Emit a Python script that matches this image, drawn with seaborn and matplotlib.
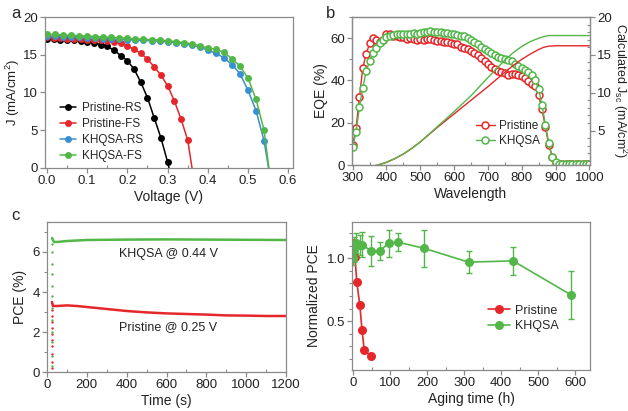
import numpy as np
import pandas as pd
import matplotlib
matplotlib.use("Agg")
import matplotlib.pyplot as plt
import seaborn as sns
from matplotlib.ticker import MultipleLocator, FormatStrFormatter

# ---- panel a: J-V curves ----
v_pristine = [i / 60 for i in range(23)]
j_pristine_rs = [17.1, 17.05, 17.0, 16.95, 16.9, 16.8, 16.7, 16.55, 16.35, 16.1, 15.6, 14.9,
                 14.2, 13.1, 11.35, 9.3, 6.65, 4.0, 0.8, -3.0]
j_pristine_fs = [17.3, 17.25, 17.2, 17.15, 17.1, 17.05, 17.0, 16.95, 16.9, 16.8, 16.7, 16.5,
                 16.2, 15.7, 15.2, 14.4, 13.4, 12.3, 10.9, 8.9, 6.5, 3.7, -2.0]
v_khqsa = [i * 0.02 for i in range(29)]
j_khqsa_rs = [17.5, 17.45, 17.4, 17.35, 17.3, 17.25, 17.2, 17.15, 17.1, 17.05, 17.0, 16.95, 16.9,
              16.85, 16.8, 16.7, 16.6, 16.45, 16.25, 16.0, 15.6, 15.2, 14.6, 13.7, 12.5, 10.3,
              7.6, 3.6, -2.9]
j_khqsa_fs = [17.7, 17.7, 17.6, 17.6, 17.5, 17.5, 17.4, 17.35, 17.3, 17.25, 17.2, 17.1, 17.05,
              17.0, 16.95, 16.85, 16.75, 16.6, 16.45, 16.2, 15.9, 15.7, 15.3, 14.5, 13.5, 11.9,
              9.1, 5.0, -3.3]

# ---- panel b: EQE and integrated Jsc ----
wl = list(range(300, 1001, 10))
eqe_pristine = [9.5, 17.5, 32, 46, 52.5, 57.5, 60, 59, 58, 59, 62, 62, 61, 61, 60.5, 60.5,
                59.5, 60, 59.5, 59, 59.5, 59, 59.5, 59.5, 59, 58.5, 58.5, 58, 58, 57.5, 57,
                57, 56, 55.5, 55, 54, 53, 52, 50.5, 49, 48, 46.5, 45.5, 44.5, 44, 43.5, 42.5,
                43, 43, 42.5, 42, 41, 39.5, 38.5, 37.5, 33, 26.5, 18, 9.5, 4, 1, 0.4, 0.3, 0.3,
                0.3, 0.3, 0.3, 0.3, 0.3, 0.3, 0.3]
eqe_khqsa = [8.5, 15.5, 27.5, 36.5, 44.5, 49, 53, 55.5, 57.5, 59, 60.5, 61, 61.5, 62, 62, 62,
             62, 62, 62.5, 62, 62.5, 63, 63, 63.5, 63, 63, 63, 62.5, 62.5, 62, 62, 61.5, 61,
             61, 60, 59, 58, 57, 56, 55, 54, 53, 52, 51, 50.5, 50, 49.5, 49, 48, 47, 46, 45,
             44, 42.5, 40, 36, 28.5, 19, 10.5, 4, 1.5, 0.6, 0.4, 0.4, 0.4, 0.5, 0.5, 0.5, 0.4,
             0.4, 0.4]
wl_jsc = [300, 325, 350, 375, 400, 425, 450, 475, 500, 525, 550, 575, 600, 625, 650, 675, 700,
          725, 750, 775, 800, 825, 850, 865, 880, 900, 1000]
jsc_pristine = [0.0, 0.05, 0.2, 0.45, 0.8, 1.3, 1.9, 2.65, 3.5, 4.45, 5.4, 6.3, 7.2, 8.1, 9.0,
                9.9, 10.8, 11.75, 12.7, 13.6, 14.4, 15.1, 15.7, 16.0, 16.15, 16.2, 16.2]
jsc_khqsa = [0.0, 0.05, 0.2, 0.45, 0.8, 1.3, 1.9, 2.65, 3.5, 4.5, 5.5, 6.5, 7.5, 8.55, 9.6,
             10.8, 12.0, 13.15, 14.3, 15.3, 16.1, 16.75, 17.2, 17.4, 17.55, 17.55, 17.55]

# ---- panel c: PCE tracking ----
t_pristine = [25, 30, 50, 100, 150, 200, 300, 400, 500, 600, 700, 800, 900, 1000, 1100, 1200]
pce_pristine = [3.5, 3.3, 3.3, 3.33, 3.3, 3.25, 3.15, 3.05, 2.98, 2.93, 2.9, 2.87, 2.83, 2.82,
                2.8, 2.8]
t_khqsa = [25, 35, 50, 100, 200, 400, 600, 800, 1000, 1200]
pce_khqsa = [6.7, 6.5, 6.5, 6.55, 6.6, 6.62, 6.63, 6.62, 6.61, 6.6]
ramp_pristine = [0.2, 0.5, 0.9, 1.3, 1.6, 1.9, 2.2, 2.5, 2.8, 3.1]
ramp_khqsa = [0.3, 0.8, 1.5, 2.0, 2.6, 3.2, 3.8, 4.3, 4.9, 5.4, 6.0, 6.4]

# ---- panel d: aging ----
h_pristine = [0, 5, 10, 18, 24, 30, 48]
npce_pristine = [1.12, 1.01, 0.81, 0.63, 0.43, 0.27, 0.22]
h_khqsa = [0, 3, 9, 18, 24, 48, 72, 96, 120, 192, 312, 432, 588]
npce_khqsa = [1.0, 1.07, 1.12, 1.11, 1.11, 1.06, 1.06, 1.12, 1.13, 1.08, 0.97, 0.98, 0.71]
err_khqsa = [0.05, 0.1, 0.08, 0.08, 0.1, 0.12, 0.07, 0.11, 0.07, 0.15, 0.09, 0.11, 0.19]

RED = "#e5262a"
GREEN = "#52b748"
BLUE = "#3a8fd3"
BLACK = "#000000"

sns.set_style("ticks")
plt.rcParams["font.family"] = ["Liberation Sans", "DejaVu Sans"]
plt.rcParams["mathtext.default"] = "regular"
plt.rcParams["axes.edgecolor"] = "#8a8a8a"
plt.rcParams["xtick.color"] = "#8a8a8a"
plt.rcParams["ytick.color"] = "#8a8a8a"
plt.rcParams["xtick.labelcolor"] = "#222222"
plt.rcParams["ytick.labelcolor"] = "#222222"
plt.rcParams["axes.labelcolor"] = "#222222"
plt.rcParams["axes.linewidth"] = 0.9

fig = plt.figure(figsize=(6.28, 4.11), dpi=100)
W, H = 628, 411


def add_axes(l, r, t, b):
    return fig.add_axes([l / W, 1 - b / H, (r - l) / W, (b - t) / H])


def style(ax, fs=9.5):
    ax.tick_params(which="major", direction="out", length=3.5, width=0.9, labelsize=fs, pad=1.5)
    ax.tick_params(which="minor", axis="x", direction="in", length=2.5, width=0.8)
    ax.tick_params(which="minor", axis="y", direction="out", length=2.5, width=0.8)


# ---------- a ----------
ax = add_axes(45, 293, 17, 168)
series_a = [("Pristine-RS", v_pristine[:len(j_pristine_rs)], j_pristine_rs, BLACK),
            ("Pristine-FS", v_pristine, j_pristine_fs, RED),
            ("KHQSA-RS", v_khqsa, j_khqsa_rs, BLUE),
            ("KHQSA-FS", v_khqsa, j_khqsa_fs, GREEN)]
for name, xv, yv, c in series_a:
    sns.lineplot(x=xv, y=yv, ax=ax, color=c, marker="o", markersize=5, markeredgewidth=0,
                 linewidth=1.1, label=name)
ax.set_xlim(-0.005, 0.612)
ax.set_ylim(0, 20)
ax.xaxis.set_major_locator(MultipleLocator(0.1))
ax.xaxis.set_minor_locator(MultipleLocator(0.05))
ax.yaxis.set_major_locator(MultipleLocator(5))
ax.set_xlabel("Voltage (V)", fontsize=10, labelpad=2)
ax.set_ylabel("J (mA/cm$^2$)", fontsize=9.5, va="center")
ax.yaxis.set_label_coords(-0.128, 0.5)
style(ax)
ax.legend(loc="lower left", bbox_to_anchor=(0.04, 0.01), frameon=False, fontsize=8.5,
          handlelength=1.4, handletextpad=0.5, labelspacing=0.33, borderaxespad=0)
fig.text(11 / W, 1 - 13 / H, "a", fontsize=12, va="center", ha="left")

# ---------- b ----------
ax = add_axes(352, 590, 17, 165)
sns.lineplot(x=wl, y=eqe_pristine, ax=ax, color=RED, marker="o", markersize=5,
             markerfacecolor="white", markeredgecolor=RED, markeredgewidth=1.1,
             linewidth=1.0, label="Pristine")
sns.lineplot(x=wl, y=eqe_khqsa, ax=ax, color=GREEN, marker="o", markersize=5,
             markerfacecolor="white", markeredgecolor=GREEN, markeredgewidth=1.1,
             linewidth=1.0, label="KHQSA")
ax.set_xlim(298, 1002)
ax.set_ylim(0, 70)
ax.xaxis.set_major_locator(MultipleLocator(100))
ax.xaxis.set_minor_locator(MultipleLocator(50))
ax.yaxis.set_major_locator(MultipleLocator(20))
ax.yaxis.set_minor_locator(MultipleLocator(10))
ax.set_xlabel("Wavelength", fontsize=10, labelpad=2)
ax.set_ylabel("EQE (%)", fontsize=10, labelpad=2)
style(ax)
ax.legend(loc="lower left", bbox_to_anchor=(0.5, 0.09), frameon=False, fontsize=8.5,
          handlelength=1.6, handletextpad=0.4, labelspacing=0.25, borderaxespad=0)
ax2 = ax.twinx()
sns.lineplot(x=wl_jsc, y=jsc_pristine, ax=ax2, color=RED, linewidth=1.0)
sns.lineplot(x=wl_jsc, y=jsc_khqsa, ax=ax2, color=GREEN, linewidth=1.0)
ax2.set_ylim(0.45, 20)
ax2.yaxis.set_major_locator(MultipleLocator(5))
ax2.yaxis.set_minor_locator(MultipleLocator(1))
ax2.tick_params(which="major", direction="out", length=3.5, width=0.9, labelsize=9.5, pad=1.5)
ax2.tick_params(which="minor", direction="in", length=2.5, width=0.8)
ax2.set_ylabel("Calculated J$_{sc}$ (mA/cm$^2$)", fontsize=9, rotation=270, va="center")
ax2.yaxis.set_label_coords(1.125, 0.5)
fig.text(326 / W, 1 - 13 / H, "b", fontsize=12, va="center", ha="left")

# ---------- c ----------
ax = add_axes(47, 286, 222, 372)
sns.scatterplot(x=[25] * len(ramp_pristine), y=ramp_pristine, ax=ax, color=RED, s=3,
                linewidth=0)
sns.scatterplot(x=[25] * len(ramp_khqsa), y=ramp_khqsa, ax=ax, color=GREEN, s=3,
                linewidth=0)
sns.lineplot(x=t_pristine, y=pce_pristine, ax=ax, color=RED, linewidth=1.8)
sns.lineplot(x=t_khqsa, y=pce_khqsa, ax=ax, color=GREEN, linewidth=1.8)
ax.set_xlim(0, 1200)
ax.set_ylim(0, 7.5)
ax.xaxis.set_major_locator(MultipleLocator(200))
ax.xaxis.set_minor_locator(MultipleLocator(100))
ax.yaxis.set_major_locator(MultipleLocator(2))
ax.yaxis.set_minor_locator(MultipleLocator(1))
ax.set_xlabel("Time (s)", fontsize=10, labelpad=2)
ax.set_ylabel("PCE (%)", fontsize=10, labelpad=4)
style(ax)
ax.text(610, 5.9, "KHQSA @ 0.44 V", fontsize=9, ha="center", va="center", color="#222222")
ax.text(610, 2.25, "Pristine @ 0.25 V", fontsize=9, ha="center", va="center", color="#222222")
fig.text(11 / W, 1 - 215 / H, "c", fontsize=12, va="center", ha="left")

# ---------- d ----------
ax = add_axes(352, 590, 222, 370)
sns.lineplot(x=h_pristine, y=npce_pristine, ax=ax, color=RED, marker="o", markersize=6.5,
             markeredgewidth=0, linewidth=1.2, label="Pristine")
ax.errorbar(h_khqsa, npce_khqsa, yerr=err_khqsa, fmt="none", ecolor=GREEN, elinewidth=1.0,
            capsize=2.5, capthick=1.0)
sns.lineplot(x=h_khqsa, y=npce_khqsa, ax=ax, color=GREEN, marker="o", markersize=6.5,
             markeredgewidth=0, linewidth=1.2, label="KHQSA")
ax.set_xlim(-3, 640)
ax.set_ylim(0.11, 1.29)
ax.xaxis.set_major_locator(MultipleLocator(100))
ax.xaxis.set_minor_locator(MultipleLocator(50))
ax.yaxis.set_major_locator(MultipleLocator(0.5))
ax.yaxis.set_minor_locator(MultipleLocator(0.1))
ax.yaxis.set_major_formatter(FormatStrFormatter("%.1f"))
ax.set_xlabel("Aging time (h)", fontsize=10, labelpad=2)
ax.set_ylabel("Normalized PCE", fontsize=10, labelpad=4)
style(ax)
ax.legend(loc="lower left", bbox_to_anchor=(0.55, 0.22), frameon=False, fontsize=9,
          handlelength=1.8, handletextpad=0.4, labelspacing=0.3, borderaxespad=0)

fig.savefig("out.png", dpi=100)
